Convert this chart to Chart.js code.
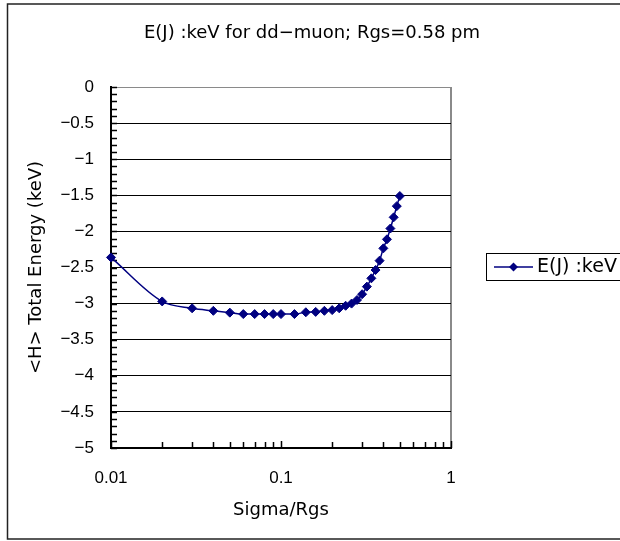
<!DOCTYPE html>
<html><head><meta charset="utf-8">
<script src="https://cdn.jsdelivr.net/npm/chart.js@4"></script>
<style>html,body{margin:0;padding:0;background:#fff}#wrap{width:620px;height:541px;position:relative;overflow:hidden}</style>
</head><body><div id="wrap"><canvas id="c" width="620" height="541"></canvas></div>
<script>
const TITLE = 'E(J) :keV for dd−muon; Rgs=0.58 pm';
const SERIES_LABEL = 'E(J) :keV';
const X_TITLE = 'Sigma/Rgs';
const Y_TITLE = '<H> Total Energy (keV)';
const sigma = [0.01,0.02,0.03,0.04,0.05,0.06,0.07,0.08,0.09,0.1,0.12,0.14,0.16,0.18,0.2,0.22,0.24,0.26,0.28,0.3,0.32,0.34,0.36,0.38,0.4,0.42,0.44,0.46,0.48,0.5];
const energy = [-2.36,-2.97,-3.065,-3.10,-3.125,-3.145,-3.145,-3.145,-3.145,-3.145,-3.145,-3.12,-3.115,-3.10,-3.09,-3.065,-3.03,-3.00,-2.95,-2.87,-2.765,-2.65,-2.535,-2.405,-2.235,-2.11,-1.96,-1.805,-1.65,-1.51];
const xTickLabels = ['0.01','0.1','1'];
const xTickValues = [0.01,0.1,1];
const yMin = -5, yMax = 0, yStep = 0.5, yMinorStep = 0.1;

const FONT = 'DejaVu Sans';
const TICK_FONT = 'Liberation Sans';
const LINE = '#000080';

const decor = {
  id: 'decor',
  beforeDatasetsDraw(chart) {
    const ctx = chart.ctx, a = chart.chartArea;
    const xs = chart.scales.x, ys = chart.scales.y;
    ctx.save();
    ctx.strokeStyle = '#000';
    ctx.lineWidth = 1.5;
    ctx.beginPath();
    const n = Math.round((yMax - yMin) / yMinorStep);
    for (let i = 0; i <= n; i++) {
      const y = Math.round(ys.getPixelForValue(yMin + i * yMinorStep)) + 0.5;
      ctx.moveTo(a.left, y); ctx.lineTo(a.left + 6, y);
    }
    for (let d = 0; d < xTickValues.length - 1; d++) {
      for (let k = 1; k <= 10; k++) {
        const x = Math.round(xs.getPixelForValue(xTickValues[d] * k)) + 0.5;
        ctx.moveTo(x, a.bottom); ctx.lineTo(x, a.bottom - (k === 1 || k === 10 ? 7 : 6));
      }
    }
    ctx.stroke();
    ctx.restore();
  },
  afterDraw(chart) {
    const ctx = chart.ctx;
    ctx.save();
    // outer frame
    ctx.strokeStyle = '#222';
    ctx.lineWidth = 1.5;
    ctx.strokeRect(7.5, 4, 700, 535);
    // title
    ctx.fillStyle = '#000';
    ctx.font = '18px "' + FONT + '"';
    ctx.textAlign = 'center';
    ctx.textBaseline = 'middle';
    ctx.fillText(TITLE, 312, 33);
    // legend
    ctx.strokeStyle = '#000';
    ctx.lineWidth = 1;
    ctx.strokeRect(486.5, 253.5, 200, 27);
    ctx.strokeStyle = LINE;
    ctx.lineWidth = 1.5;
    ctx.beginPath(); ctx.moveTo(494, 267); ctx.lineTo(533, 267); ctx.stroke();
    ctx.fillStyle = LINE;
    ctx.beginPath();
    ctx.moveTo(513.5, 262.5); ctx.lineTo(518, 267); ctx.lineTo(513.5, 271.5); ctx.lineTo(509, 267); ctx.closePath(); ctx.fill();
    ctx.fillStyle = '#000';
    ctx.textAlign = 'left';
    ctx.font = '19px "' + FONT + '"';
    ctx.fillText(chart.data.datasets[0].label, 537, 267);
    ctx.restore();
  }
};

function isDecade(v) {
  const l = Math.log10(v);
  return Math.abs(l - Math.round(l)) < 1e-6;
}

new Chart(document.getElementById('c'), {
  type: 'line',
  data: {
    datasets: [{
      label: SERIES_LABEL,
      data: sigma.map((x, i) => ({x: x, y: energy[i]})),
      borderColor: LINE,
      backgroundColor: LINE,
      borderWidth: 1.5,
      pointStyle: 'rectRot',
      pointRadius: 4.5,
      pointBorderWidth: 1,
      pointBackgroundColor: LINE,
      pointBorderColor: LINE,
      cubicInterpolationMode: 'monotone',
      clip: false
    }]
  },
  options: {
    responsive: false,
    animation: false,
    devicePixelRatio: 1,
    layout: {padding: {left: 0, right: 169, top: 87, bottom: 0}},
    plugins: {legend: {display: false}, title: {display: false}, tooltip: {enabled: false}},
    scales: {
      x: {
        type: 'logarithmic', min: 0.01, max: 1,
        afterFit(s) { s.height = 93; },
        grid: {drawTicks: false, lineWidth: 2,
          color: c => (c.tick && Math.abs(c.tick.value - 1) < 1e-9) ? '#8a8a8a' : 'rgba(0,0,0,0)'},
        border: {display: true, color: '#000', width: 2},
        ticks: {
          padding: 20, autoSkip: false, maxRotation: 0, color: '#000',
          font: {family: TICK_FONT, size: 17},
          callback: v => {
            if (!isDecade(v)) return '';
            const i = xTickValues.findIndex(t => Math.abs(Math.log10(t) - Math.log10(v)) < 1e-6);
            return i >= 0 ? xTickLabels[i] : '';
          }
        },
        title: {display: true, text: X_TITLE, color: '#000', font: {family: FONT, size: 18}, padding: {top: 0, bottom: 20}}
      },
      y: {
        min: yMin, max: yMax,
        afterFit(s) { s.width = 111; },
        grid: {drawTicks: false, lineWidth: 1,
          color: c => (c.tick && c.tick.value === 0) ? '#8a8a8a' : '#000'},
        border: {display: true, color: '#000', width: 2},
        ticks: {
          stepSize: yStep, padding: 17, color: '#000',
          font: {family: TICK_FONT, size: 17},
          callback: v => v === 0 ? '0' : '−' + String(Math.abs(Math.round(v * 10) / 10))
        },
        title: {display: true, text: Y_TITLE, color: '#000', font: {family: FONT, size: 18}, padding: {top: 26, bottom: 0}}
      }
    }
  },
  plugins: [decor]
});
</script></body></html>
